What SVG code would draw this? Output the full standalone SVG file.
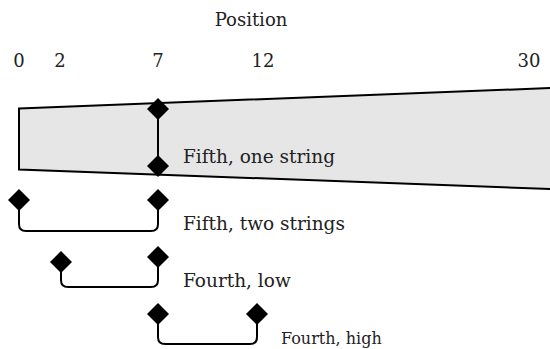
<svg xmlns="http://www.w3.org/2000/svg" width="550" height="349" viewBox="0 0 550 349">
  <style>
    text { font-family: "DejaVu Serif", serif; font-size: 18px; fill: #222; }
    .tick { text-anchor: middle; }
    .label { font-size: 18.5px; }
    .small { font-size: 16px; }
    .link { fill: none; stroke: #000; stroke-width: 2; marker-start: url(#dia); marker-end: url(#dia); }
    .board { fill: #e6e6e6; stroke: #000; stroke-width: 2; stroke-linejoin: miter; }
  </style>
  <defs>
    <marker id="dia" viewBox="-12 -12 24 24" markerWidth="24" markerHeight="24" markerUnits="userSpaceOnUse" refX="0" refY="0" orient="0">
      <path d="M0,-11 L11,0 L0,11 L-11,0 Z" fill="#000"/>
    </marker>
  </defs>

  <!-- axis title and position numbers -->
  <g id="axis">
    <text x="251" y="26" class="tick">Position</text>
    <text x="19" y="67" class="tick">0</text>
    <text x="60" y="67" class="tick">2</text>
    <text x="158" y="67" class="tick">7</text>
    <text x="263" y="67" class="tick">12</text>
    <text x="529" y="67" class="tick">30</text>
  </g>

  <!-- fingerboard -->
  <g id="board">
    <polygon class="board" points="19,108.5 551,88 551,189 19,169.5"/>
  </g>

  <!-- interval connectors -->
  <g id="connectors">
    <path class="link" d="M158,109 V166"/>
    <path class="link" d="M19,200 V224 Q19,231 26,231 H151 Q158,231 158,224 V200"/>
    <path class="link" d="M61,262 V280 Q61,287 68,287 H151 Q158,287 158,280 V257"/>
    <path class="link" d="M158,314 V337 Q158,344 165,344 H250 Q257,344 257,337 V314"/>
  </g>

  <!-- labels -->
  <g id="fifth-one">
    <text x="183" y="163" class="label">Fifth, one string</text>
  </g>
  <g id="fifth-two">
    <text x="183" y="230" class="label">Fifth, two strings</text>
  </g>
  <g id="fourth-low">
    <text x="183" y="287" class="label">Fourth, low</text>
  </g>
  <g id="fourth-high">
    <text x="281" y="344" class="small">Fourth, high</text>
  </g>
</svg>
